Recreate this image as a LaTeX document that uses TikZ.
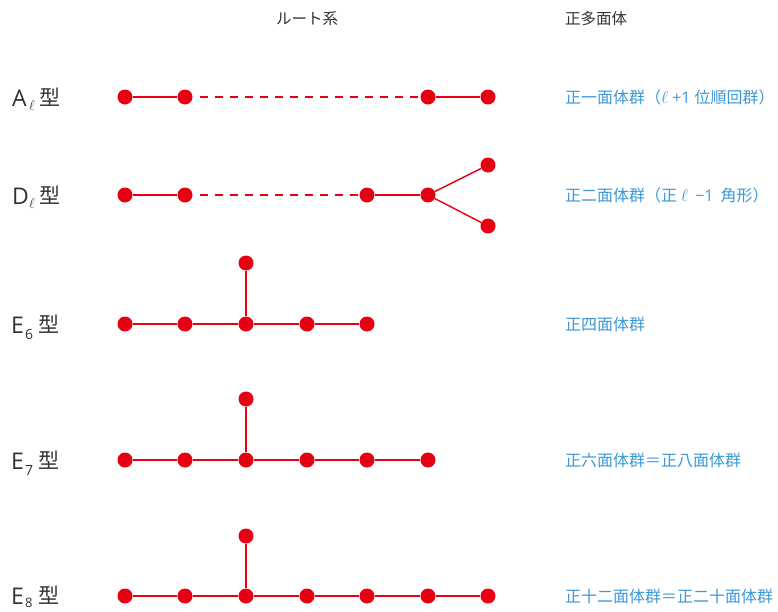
\documentclass[tikz,border=0pt]{standalone}
\usepackage{fontspec}
\newfontfamily\jp{Noto Sans CJK JP}
\newfontfamily\lat{Open Sans}
\definecolor{dred}{HTML}{E60012}
\definecolor{dblue}{HTML}{3A98D6}
\definecolor{dgray}{HTML}{333333}
\begin{document}
\begin{tikzpicture}[x=1pt,y=-1pt,
  dot/.style={circle,fill=dred,inner sep=0pt,minimum size=15pt},
  bond/.style={draw=dred,line width=1.4pt},
  dbond/.style={draw=dred,line width=1.4pt,dash pattern=on 8pt off 7pt},
  head/.style={anchor=west,inner sep=0pt,text=dgray,font=\jp\fontsize{15.5}{15.5}\selectfont},
  poly/.style={anchor=west,inner sep=0pt,text=dblue,font=\jp\fontsize{16}{16}\selectfont},
  typ/.style={anchor=base west,inner sep=0pt,text=dgray}]
\useasboundingbox (0,0) rectangle (778,611);
% headers
\node[head] (h1) at (276,19) {ルート系};
\node[head] (h2) at (565,19) {正多面体};
% type labels
\node[typ,font=\lat\fontsize{23}{23}\selectfont] (tA) at (12,106) {A};
\node[typ,font=\fontsize{15}{15}\selectfont] (tAs) at (29,110) {$\ell$};
\node[typ,font=\jp\fontsize{21}{21}\selectfont] (tAk) at (39,105) {型};
\node[typ,font=\lat\fontsize{23}{23}\selectfont] (tD) at (12,204) {D};
\node[typ,font=\fontsize{15}{15}\selectfont] (tDs) at (29,208) {$\ell$};
\node[typ,font=\jp\fontsize{21}{21}\selectfont] (tDk) at (39,203) {型};
\node[typ,font=\lat\fontsize{23}{23}\selectfont] (t6) at (11,333) {E};
\node[typ,font=\lat\fontsize{14}{14}\selectfont] (t6s) at (25,339) {6};
\node[typ,font=\jp\fontsize{21}{21}\selectfont] (t6k) at (38,332) {型};
\node[typ,font=\lat\fontsize{23}{23}\selectfont] (t7) at (11,469) {E};
\node[typ,font=\lat\fontsize{14}{14}\selectfont] (t7s) at (25,475) {7};
\node[typ,font=\jp\fontsize{21}{21}\selectfont] (t7k) at (38,468) {型};
\node[typ,font=\lat\fontsize{23}{23}\selectfont] (t8) at (11,604) {E};
\node[typ,font=\lat\fontsize{13}{13}\selectfont] (t8s) at (25,607.5) {8};
\node[typ,font=\jp\fontsize{21}{21}\selectfont] (t8k) at (38,603) {型};
% polyhedra labels
\node[poly] (pA) at (565,97) {正一面体群（$\ell$\hspace{4pt}{\lat +1}\hspace{4pt}位順回群）};
\node[poly] (pD) at (565,195) {正二面体群（正\hspace{4pt}$\ell$\hspace{7pt}{\lat −1}\hspace{7pt}角形）};
\node[poly] (p6) at (565,324) {正四面体群};
\node[poly] (p7) at (565,460) {正六面体群＝正八面体群};
\node[poly] (p8) at (565,596) {正十二面体群＝正二十面体群};
% A row
\node[dot] (a1) at (125,97) {};
\node[dot] (a2) at (185,97) {};
\node[dot] (a3) at (428,97) {};
\node[dot] (a4) at (488,97) {};
\draw[bond] (a1) -- (a2);
\draw[dbond] ([xshift=7.5pt]a2.east) -- ([xshift=-2.5pt]a3.west);
\draw[bond] (a3) -- (a4);
% D row
\node[dot] (d1) at (125,195) {};
\node[dot] (d2) at (185,195) {};
\node[dot] (d3) at (367,195) {};
\node[dot] (d4) at (428,195) {};
\node[dot] (d5) at (488,165) {};
\node[dot] (d6) at (488,226) {};
\draw[bond] (d1) -- (d2);
\draw[dbond] ([xshift=7.5pt]d2.east) -- ([xshift=-1.5pt]d3.west);
\draw[bond] (d3) -- (d4);
\draw[bond] (d4) -- (d5);
\draw[bond] (d4) -- (d6);
% E6
\foreach \i/\x in {1/125,2/185,3/246,4/307,5/367} \node[dot] (e6n\i) at (\x,324) {};
\node[dot] (e6t) at (246,263) {};
\draw[bond] (e6n1) -- (e6n2) -- (e6n3) -- (e6n4) -- (e6n5);
\draw[bond] (e6n3) -- (e6t);
% E7
\foreach \i/\x in {1/125,2/185,3/246,4/307,5/367,6/428} \node[dot] (e7n\i) at (\x,460) {};
\node[dot] (e7t) at (246,399) {};
\draw[bond] (e7n1) -- (e7n2) -- (e7n3) -- (e7n4) -- (e7n5) -- (e7n6);
\draw[bond] (e7n3) -- (e7t);
% E8
\foreach \i/\x in {1/125,2/185,3/246,4/307,5/367,6/428,7/488} \node[dot] (e8n\i) at (\x,596) {};
\node[dot] (e8t) at (246,536) {};
\draw[bond] (e8n1) -- (e8n2) -- (e8n3) -- (e8n4) -- (e8n5) -- (e8n6) -- (e8n7);
\draw[bond] (e8n3) -- (e8t);
\end{tikzpicture}
\end{document}
